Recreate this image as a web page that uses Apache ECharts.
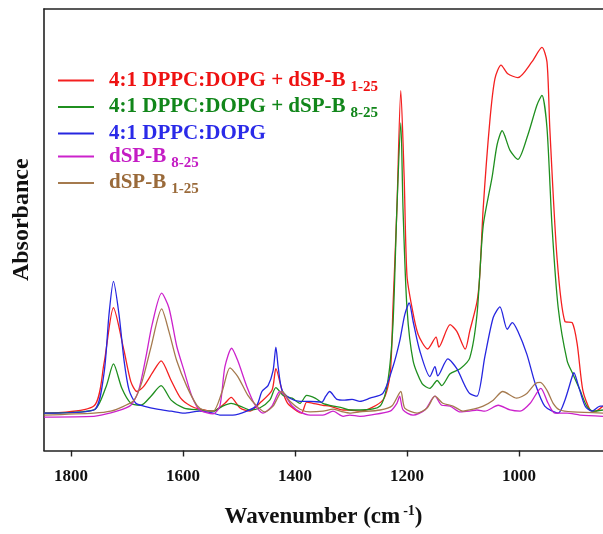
<!DOCTYPE html>
<html>
<head>
<meta charset="utf-8">
<script src="https://cdn.jsdelivr.net/npm/echarts@6/dist/echarts.min.js"></script>
<style>
  html, body { margin: 0; padding: 0; background: #fff; }
  #chart { width: 603px; height: 534px; }
</style>
</head>
<body>
<div id="chart"></div>
<script>
// IR spectra, [wavenumber (cm-1), absorbance (a.u.)]
const mixB125 = [
  [1848, 0.005], [1759, 0.023], [1741, 0.13], [1724, 0.273], [1705, 0.163], [1693, 0.085],
  [1682, 0.06], [1670, 0.073], [1652, 0.113], [1639, 0.138], [1621, 0.088], [1604, 0.043],
  [1586, 0.023], [1570, 0.015], [1546, 0.01], [1525, 0.03], [1514, 0.045], [1498, 0.018],
  [1480, 0.01], [1463, 0.03], [1441, 0.063], [1434, 0.118], [1423, 0.063], [1413, 0.03],
  [1396, 0.01], [1388, 0.005], [1379, 0.033], [1368, 0.03], [1350, 0.025], [1338, 0.023],
  [1314, 0.013], [1302, 0.013], [1284, 0.01], [1243, 0.038], [1230, 0.105], [1225, 0.273],
  [1218, 0.523], [1211, 0.825], [1205, 0.605], [1200, 0.355], [1191, 0.273], [1180, 0.205],
  [1163, 0.168], [1148, 0.198], [1143, 0.173], [1123, 0.23], [1111, 0.213], [1096, 0.168],
  [1088, 0.213], [1075, 0.288], [1070, 0.355], [1064, 0.523], [1052, 0.748], [1043, 0.855],
  [1032, 0.89], [1020, 0.868], [1002, 0.858], [977, 0.898], [959, 0.935], [950, 0.898],
  [945, 0.73], [932, 0.398], [918, 0.238], [905, 0.235], [896, 0.18], [886, 0.063],
  [873, 0.013], [864, 0.01], [850, 0.023]
];
const mixB825 = [
  [1848, 0.005], [1759, 0.013], [1737, 0.073], [1724, 0.13], [1709, 0.068], [1693, 0.03],
  [1675, 0.025], [1657, 0.048], [1639, 0.075], [1621, 0.038], [1598, 0.018], [1570, 0.013],
  [1546, 0.01], [1529, 0.023], [1514, 0.03], [1498, 0.023], [1480, 0.013], [1463, 0.018],
  [1445, 0.038], [1434, 0.07], [1421, 0.05], [1405, 0.043], [1391, 0.03], [1379, 0.05],
  [1364, 0.043], [1350, 0.03], [1338, 0.025], [1314, 0.018], [1302, 0.013], [1284, 0.013],
  [1248, 0.023], [1234, 0.088], [1225, 0.23], [1218, 0.523], [1211, 0.743], [1207, 0.523],
  [1200, 0.273], [1189, 0.138], [1173, 0.08], [1159, 0.068], [1146, 0.088], [1138, 0.075],
  [1123, 0.105], [1105, 0.118], [1088, 0.145], [1075, 0.255], [1064, 0.48], [1048, 0.605],
  [1039, 0.688], [1030, 0.723], [1016, 0.673], [1002, 0.65], [984, 0.713], [968, 0.788],
  [959, 0.813], [950, 0.73], [941, 0.48], [930, 0.273], [914, 0.138], [904, 0.105],
  [891, 0.063], [879, 0.023], [868, 0.01], [850, 0.013]
];
const lipid = [
  [1848, 0.005], [1759, 0.013], [1741, 0.105], [1732, 0.255], [1724, 0.34], [1714, 0.255],
  [1705, 0.138], [1696, 0.063], [1684, 0.03], [1670, 0.023], [1646, 0.015], [1621, 0.01],
  [1598, 0.005], [1570, 0.01], [1546, 0.005], [1534, 0], [1511, 0], [1486, 0.01],
  [1468, 0.025], [1459, 0.06], [1448, 0.075], [1439, 0.113], [1434, 0.173], [1430, 0.123],
  [1423, 0.063], [1409, 0.043], [1391, 0.035], [1373, 0.035], [1352, 0.033], [1345, 0.048],
  [1338, 0.06], [1325, 0.04], [1311, 0.038], [1298, 0.04], [1284, 0.035], [1266, 0.043],
  [1243, 0.055], [1225, 0.123], [1213, 0.188], [1204, 0.255], [1196, 0.285], [1189, 0.238],
  [1177, 0.163], [1159, 0.098], [1150, 0.123], [1145, 0.1], [1127, 0.143], [1111, 0.118],
  [1096, 0.073], [1088, 0.055], [1075, 0.048], [1061, 0.148], [1046, 0.248], [1034, 0.275],
  [1021, 0.218], [1012, 0.235], [1002, 0.213], [986, 0.155], [971, 0.08], [954, 0.023],
  [930, 0.005], [918, 0.038], [905, 0.098], [902, 0.108], [895, 0.08], [882, 0.023],
  [870, 0.01], [855, 0.023], [850, 0.023]
];
const peptideB825 = [
  [1848, -0.005], [1759, -0.003], [1746, 0], [1718, 0.01], [1693, 0.025], [1679, 0.063],
  [1666, 0.148], [1655, 0.23], [1638, 0.31], [1625, 0.273], [1611, 0.175], [1598, 0.113],
  [1584, 0.048], [1570, 0.013], [1546, 0.003], [1534, 0.023], [1525, 0.123], [1513, 0.17],
  [1502, 0.138], [1486, 0.073], [1471, 0.025], [1457, 0.005], [1441, 0.023], [1427, 0.06],
  [1418, 0.05], [1405, 0.023], [1391, 0.008], [1373, 0], [1350, 0], [1332, 0.01],
  [1314, -0.003], [1302, 0], [1284, -0.003], [1266, 0], [1230, 0.01], [1218, 0.03],
  [1213, 0.048], [1207, 0.013], [1189, 0], [1168, 0.013], [1150, 0.048], [1138, 0.025],
  [1123, 0.023], [1105, 0.008], [1088, 0.01], [1075, 0.013], [1061, 0.01], [1037, 0.025],
  [1016, 0.013], [998, 0.01], [980, 0.03], [961, 0.068], [948, 0.03], [936, 0.005],
  [914, 0.005], [891, 0], [850, -0.003]
];
const peptideB125 = [
  [1848, 0], [1759, 0.005], [1729, 0.01], [1705, 0.023], [1687, 0.038], [1673, 0.085],
  [1657, 0.173], [1638, 0.27], [1625, 0.213], [1611, 0.138], [1593, 0.073], [1575, 0.025],
  [1563, 0.013], [1546, 0.01], [1530, 0.06], [1516, 0.12], [1502, 0.098], [1484, 0.05],
  [1468, 0.023], [1454, 0.008], [1439, 0.023], [1423, 0.06], [1409, 0.035], [1391, 0.015],
  [1373, 0.008], [1350, 0.01], [1332, 0.015], [1314, 0.008], [1302, 0.005], [1284, 0.008],
  [1248, 0.013], [1227, 0.023], [1211, 0.06], [1204, 0.018], [1182, 0.005], [1164, 0.018],
  [1150, 0.048], [1136, 0.03], [1118, 0.023], [1100, 0.01], [1088, 0.013], [1064, 0.023],
  [1046, 0.038], [1029, 0.06], [1004, 0.043], [986, 0.055], [971, 0.08], [962, 0.083],
  [950, 0.063], [939, 0.03], [927, 0.013], [904, 0.008], [850, 0.005]
];

const seriesNames = [
  "4:1 DPPC:DOPG + dSP-B1-25",
  "4:1 DPPC:DOPG + dSP-B8-25",
  "4:1 DPPC:DOPG",
  "dSP-B8-25",
  "dSP-B1-25"
];
const seriesData = [mixB125, mixB825, lipid, peptideB825, peptideB125];
const lineColors = ["#f42020", "#1f8f1f", "#2626e0", "#cc22cc", "#a57a4e"];
const textColors = ["#ee1111", "#11861a", "#2a2ae8", "#c41cc4", "#9a6a3a"];
const xTicks = [1000, 1200, 1400, 1600, 1800];

const serif = "'Liberation Serif', 'Times New Roman', serif";

// legend labels with subscripts
const legendRich = {};
const legendLabel = {};
seriesNames.forEach((name, i) => {
  legendRich["m" + i] = { color: textColors[i], fontFamily: serif, fontWeight: "bold", fontSize: 21 };
  legendRich["s" + i] = { color: textColors[i], fontFamily: serif, fontWeight: "bold", fontSize: 15, padding: [13, 0, 0, 5] };
  const m = name.match(/^(.*dSP-B)(\d-25)$/);
  legendLabel[name] = m ? `{m${i}|${m[1]}}{s${i}|${m[2]}}` : `{m${i}|${name}}`;
});

const chart = echarts.init(document.getElementById("chart"), null, { renderer: "canvas" });

chart.setOption({
  animation: false,
  backgroundColor: "#fff",
  grid: { left: 44, top: 9, right: 0, bottom: 76 },
  legend: {
    orient: "vertical",
    left: 53,
    top: 65,
    itemGap: 2,
    itemWidth: 36,
    itemHeight: 2,
    icon: "rect",
    data: seriesNames,
    formatter: name => legendLabel[name],
    textStyle: { rich: legendRich, padding: [0, 0, 0, 10] }
  },
  xAxis: [
    {
      type: "value",
      inverse: true,
      min: 850,
      max: 1848,
      splitLine: { show: false },
      axisLine: { onZero: false, lineStyle: { color: "#222", width: 1.6 } },
      axisTick: { customValues: xTicks, length: 6, lineStyle: { color: "#222", width: 1.4 } },
      axisLabel: {
        customValues: xTicks,
        formatter: v => String(v),
        margin: 18,
        color: "#111",
        fontFamily: serif,
        fontWeight: "bold",
        fontSize: 17
      },
      name: "{n|Wavenumber (cm}{p|-1}{n|)}",
      nameLocation: "middle",
      nameGap: 54,
      nameTextStyle: {
        rich: {
          n: { fontFamily: serif, fontWeight: "bold", fontSize: 23, color: "#111" },
          p: { fontFamily: serif, fontWeight: "bold", fontSize: 14, color: "#111", padding: [0, 0, 12, 3] }
        }
      }
    },
    {
      type: "value",
      position: "top",
      inverse: true,
      min: 850,
      max: 1848,
      splitLine: { show: false },
      axisLine: { onZero: false, lineStyle: { color: "#222", width: 1.6 } },
      axisTick: { show: false },
      axisLabel: { show: false }
    }
  ],
  yAxis: {
    type: "value",
    min: -0.09,
    max: 1.0325,
    splitLine: { show: false },
    axisTick: { show: false },
    axisLabel: { show: false },
    axisLine: { show: true, onZero: false, lineStyle: { color: "#222", width: 1.6 } },
    name: "Absorbance",
    nameLocation: "middle",
    nameGap: 10,
    nameTextStyle: { fontFamily: serif, fontWeight: "bold", fontSize: 24, color: "#111", padding: [0, 0, 0, 20] }
  },
  series: seriesData.map((data, i) => ({
    name: seriesNames[i],
    type: "line",
    data: data,
    smooth: 0.25,
    showSymbol: false,
    color: lineColors[i],
    lineStyle: { width: 1.3, color: lineColors[i] }
  }))
});
</script>
</body>
</html>
